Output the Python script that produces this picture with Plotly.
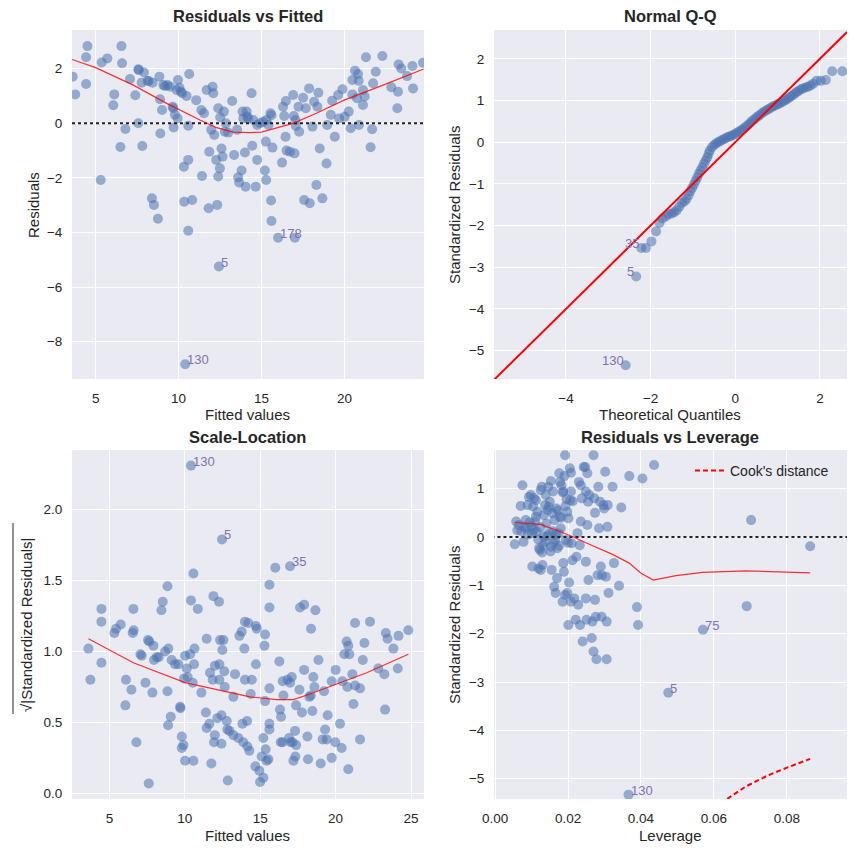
import plotly.graph_objects as go
from plotly.subplots import make_subplots

# ---------------- Panel 1: Residuals vs Fitted ----------------
rf_fitted = [3.61,3.76,4.5,4.42,4.42,5.3,5.36,5.7,6.55,6.59,6.12,6.06,6.79,6.49,7.07,7.39,7.57,7.6,7.57,7.77,7.81,7.91,8.13,8.2,8.43,8.39,8.51,8.75,8.84,8.88,8.9,9.0,9.08,9.18,9.34,9.48,9.64,9.68,9.7,9.78,9.94,9.96,9.88,10.05,10.14,10.34,10.32,10.22,10.48,10.58,10.58,10.58,10.4,10.64,10.82,11.06,11.37,11.41,11.53,11.69,11.81,11.85,11.97,12.05,12.09,12.15,12.27,12.33,12.39,12.39,12.43,12.49,12.51,12.59,12.65,12.73,12.79,12.85,12.99,13.23,13.35,13.53,13.59,13.65,13.8,13.86,13.9,14.0,14.04,14.1,14.14,14.2,14.4,14.44,14.5,14.65,14.74,14.74,14.9,15.1,15.2,15.26,15.28,15.3,15.42,15.54,15.6,15.58,15.6,15.66,16.0,16.24,16.3,16.37,16.45,16.47,16.51,16.71,16.91,16.99,17.01,16.95,17.05,17.07,17.23,17.27,17.51,17.57,17.67,17.87,17.91,18.07,18.17,18.31,18.37,18.43,18.51,18.67,18.92,18.96,19.18,19.26,19.42,19.62,19.68,19.88,20.02,20.26,20.38,20.48,20.48,20.64,20.76,20.82,20.86,20.88,21.12,21.12,21.22,21.3,21.58,21.67,21.73,21.89,22.29,22.83,23.19,23.23,23.27,23.43,23.78,24.1,24.14,24.74]
rf_resid = [1.71,1.06,2.83,2.42,1.44,-2.08,2.23,2.38,2.83,2.2,1.06,0.66,-0.21,-0.87,1.62,1.03,1.98,1.95,0.0,1.49,-0.83,1.86,1.55,1.55,1.49,-2.75,-2.99,-3.5,1.71,0.88,-0.37,0.49,1.4,1.37,1.4,1.34,0.61,0.55,-0.15,0.31,0.18,1.59,1.22,1.3,1.16,-2.87,-1.59,1.1,1.0,-1.34,-0.09,-3.94,-8.83,1.81,-2.81,0.85,0.49,-1.93,0.37,1.22,-3.11,-1.04,-0.24,1.34,1.1,-0.43,-1.34,-2.99,0.55,-1.95,-5.25,-1.65,0.22,-0.92,-1.22,0.43,-0.31,0.0,-0.34,0.82,-1.16,-0.24,-1.98,-2.17,-1.73,0.43,0.18,-1.07,-2.32,0.43,0.25,0.18,1.1,-0.82,0.12,-2.32,-1.34,-0.06,0.0,0.06,-1.73,-0.67,-2.08,0.12,-0.06,0.37,0.3,-2.83,-3.58,-0.89,-4.19,-1.44,0.61,0.27,-0.49,0.82,-1.0,-1.04,1.04,-1.1,-4.19,0.27,0.12,-0.1,0.61,-0.31,0.94,-2.81,0.55,1.28,-2.93,-0.12,0.79,-2.26,0.61,1.12,-0.92,-2.75,-1.47,-0.06,0.31,0.83,-0.49,1.04,0.18,1.25,0.24,0.43,-0.18,1.59,1.06,1.93,0.92,1.81,1.56,-0.06,1.22,0.67,0.98,2.42,-0.88,-0.22,1.47,1.89,2.47,1.32,0.55,1.16,2.16,2.01,1.73,2.1,1.28,2.22]
rf_lowess_x = [3.57,5.0,7.27,9.28,11.29,12.29,13.29,14.3,15.0,15.9,16.9,18.31,19.98,22.33,24.78]
rf_lowess_y = [2.34,2.04,1.4,0.73,0.12,-0.16,-0.32,-0.34,-0.32,-0.18,0.0,0.37,0.85,1.4,1.99]
rf_labels = ["130", "5", "178"]
rf_label_x = [10.4, 12.43, 16.0]
rf_label_y = [-8.83, -5.25, -4.19]

# ---------------- Panel 2: Normal Q-Q ----------------
qq_theor = [2.53,2.29,2.14,2.02,1.92,1.84,1.78,1.72,1.66,1.60,1.55,1.50,1.45,1.40,1.35,1.30,1.25,1.20,1.15,1.10,1.05,1.00,0.95,0.90,0.85,0.80,0.75,0.70,0.65,0.60,0.55,0.50,0.45,0.40,0.35,0.30,0.25,0.20,0.15,0.10,0.05,0.0,-0.05,-0.10,-0.15,-0.20,-0.25,-0.30,-0.35,-0.40,-0.45,-0.50,-0.55,-0.60,-0.63,-0.66,-0.70,-0.74,-0.78,-0.82,-0.86,-0.90,-0.94,-0.98,-1.02,-1.06,-1.10,-1.15,-1.20,-1.26,-1.32,-1.38,-1.44,-1.50,-1.57,-1.64,-1.72,-1.79,-1.87,-1.98,-2.11,-2.22,-2.34,-2.59]
qq_sample = [1.70,1.70,1.49,1.47,1.47,1.40,1.36,1.33,1.31,1.29,1.27,1.23,1.20,1.16,1.12,1.09,1.05,1.02,0.99,0.96,0.93,0.91,0.88,0.86,0.83,0.80,0.77,0.74,0.71,0.67,0.63,0.59,0.55,0.51,0.46,0.41,0.37,0.33,0.29,0.26,0.23,0.20,0.17,0.15,0.13,0.11,0.08,0.06,0.03,0.0,-0.03,-0.07,-0.12,-0.20,-0.28,-0.36,-0.44,-0.52,-0.60,-0.68,-0.76,-0.85,-0.93,-1.02,-1.10,-1.18,-1.27,-1.36,-1.42,-1.46,-1.55,-1.63,-1.68,-1.71,-1.73,-1.78,-1.83,-1.94,-2.14,-2.38,-2.54,-2.54,-3.22,-5.35]
qq_line = [-5.70, 2.64]
qq_labels = ["35", "5", "130"]
qq_label_x = [-2.22, -2.34, -2.59]
qq_label_y = [-2.54, -3.22, -5.35]

# ---------------- Panel 3: Scale-Location ----------------
sl_fitted = [3.61,3.74,4.47,4.47,4.47,5.33,5.44,5.75,6.06,6.1,6.46,6.55,6.59,6.61,6.79,7.06,7.14,7.39,7.56,7.65,7.61,7.85,7.92,7.96,8.14,8.27,8.45,8.54,8.69,8.85,8.91,8.85,8.89,9.07,9.13,9.35,9.57,9.69,9.71,9.8,9.8,9.91,9.95,10.02,10.02,10.13,10.19,10.35,10.41,10.41,10.52,10.57,10.57,10.61,10.64,10.86,11.1,11.4,11.45,11.45,11.63,11.67,11.76,11.85,11.9,11.94,11.99,12.0,12.16,12.27,12.29,12.29,12.34,12.43,12.43,12.47,12.49,12.56,12.62,12.65,12.78,12.82,12.85,12.96,13.22,13.33,13.22,13.55,13.62,13.77,13.82,13.88,13.95,13.99,13.99,14.13,14.15,14.21,14.28,14.37,14.44,14.68,14.72,14.72,14.77,14.94,14.99,15.1,15.21,15.21,15.28,15.32,15.32,15.36,15.43,15.54,15.61,15.61,15.61,15.61,15.61,16.0,16.27,16.31,16.38,16.36,16.49,16.49,16.54,16.8,16.91,16.98,16.98,17.03,17.09,17.15,17.2,17.31,17.33,17.38,17.38,17.6,17.64,17.77,17.91,17.91,18.13,18.17,18.26,18.35,18.37,18.46,18.52,18.59,18.66,18.86,19.01,19.14,19.23,19.3,19.41,19.47,19.74,19.74,19.98,20.0,20.29,20.4,20.45,20.58,20.73,20.78,20.84,20.84,20.91,21.11,21.18,21.29,21.29,21.62,21.62,21.8,21.91,22.28,22.83,23.23,23.28,23.33,23.44,23.83,24.12,24.17,24.82]
sl_sqrt = [1.02,0.80,1.30,1.21,0.92,1.13,1.16,1.19,0.62,0.80,0.73,1.13,1.30,1.15,0.36,0.98,0.97,0.78,1.08,1.07,0.07,0.71,1.04,0.94,0.96,0.96,1.29,1.35,1.0,1.46,1.02,0.72,0.48,0.54,0.94,0.91,0.91,0.61,0.60,0.40,0.32,0.34,0.81,0.97,0.23,0.88,0.82,0.98,2.31,1.36,0.78,1.55,0.23,0.91,1.02,1.30,0.71,0.57,0.46,1.09,0.49,0.85,0.21,0.80,1.39,0.36,0.41,0.90,0.53,1.35,0.80,0.91,1.08,0.35,0.55,1.79,1.01,1.08,0.86,0.75,0.51,0.45,0.09,0.44,0.68,0.84,0.41,0.39,1.11,1.14,0.49,0.36,1.02,1.21,0.80,0.51,0.33,1.20,0.30,0.70,0.80,0.19,0.91,1.18,1.16,0.16,0.08,0.26,0.39,0.11,1.04,1.12,0.65,0.31,0.23,0.24,1.47,1.31,0.49,0.74,0.45,1.59,0.93,0.59,0.54,0.36,0.36,0.79,0.69,0.80,0.39,1.60,0.78,0.36,0.82,0.36,0.23,0.44,0.26,0.62,0.34,0.73,1.31,0.57,1.33,0.87,0.40,0.24,0.68,0.69,1.16,0.58,0.82,0.75,1.29,0.94,0.21,0.38,0.72,0.45,0.38,0.55,0.79,0.25,0.36,0.87,0.49,0.32,0.79,0.98,1.07,0.75,0.17,1.04,0.98,0.84,0.63,1.20,0.76,0.74,0.38,0.94,1.06,1.21,0.88,0.84,0.59,1.13,1.09,1.02,0.88,1.11,1.15]
sl_lowess_x = [3.61,6.59,10.02,12.12,14.33,16.09,17.2,18.3,19.85,22.06,24.82]
sl_lowess_y = [1.09,0.92,0.78,0.73,0.68,0.66,0.66,0.70,0.76,0.85,0.98]
sl_labels = ["130", "5", "35"]
sl_label_x = [10.41, 12.47, 16.98]
sl_label_y = [2.31, 1.79, 1.60]

# ---------------- Panel 4: Residuals vs Leverage ----------------
lv_lev = [0.0054,0.0058,0.0061,0.0070,0.0075,0.0078,0.0080,0.0084,0.0089,0.0093,0.0098,0.0101,0.0102,0.0104,0.0107,0.0110,0.0112,0.0114,0.0116,0.0119,0.0121,0.0123,0.0125,0.0125,0.0128,0.0130,0.0132,0.0134,0.0137,0.0139,0.0141,0.0144,0.0146,0.0148,0.0150,0.0153,0.0153,0.0155,0.0157,0.0159,0.0162,0.0163,0.0165,0.0166,0.0168,0.0170,0.0171,0.0174,0.0176,0.0177,0.0178,0.0180,0.0182,0.0185,0.0187,0.0187,0.0189,0.0192,0.0192,0.0194,0.0196,0.0198,0.0198,0.0201,0.0201,0.0203,0.0205,0.0206,0.0208,0.0208,0.0208,0.0210,0.0212,0.0217,0.0221,0.0223,0.0226,0.0228,0.0230,0.0232,0.0233,0.0235,0.0235,0.0238,0.0240,0.0243,0.0247,0.0249,0.0249,0.0249,0.0251,0.0253,0.0253,0.0255,0.0256,0.0258,0.0265,0.0267,0.0270,0.0270,0.0272,0.0274,0.0274,0.0276,0.0278,0.0281,0.0283,0.0285,0.0288,0.0290,0.0292,0.0293,0.0297,0.0299,0.0302,0.0304,0.0306,0.0306,0.0308,0.0309,0.0311,0.0322,0.0326,0.0340,0.0346,0.0368,0.0366,0.0389,0.0392,0.0404,0.0436,0.0475,0.0570,0.0690,0.0702,0.0864,
          0.0065,0.0072,0.0085,0.0090,0.0095,0.0100,0.0106,0.0112,0.0118,0.0124,0.0129,0.0133,0.0138,0.0143,0.0147,0.0152,0.0158,0.0161,0.0167,0.0172,0.0175,0.0181,0.0186,0.0193,0.0200,0.0190,0.0213]
lv_resid = [-0.15,0.32,0.14,0.64,1.07,-0.10,0.21,0.35,0.66,0.83,0.87,0.08,-0.61,0.63,0.80,0.32,0.76,0.11,0.52,-0.65,-0.23,-0.27,-0.68,0.97,1.04,-0.58,-0.17,0.01,0.66,0.87,0.28,0.56,1.04,0.08,0.73,1.16,-0.20,-0.68,0.49,0.94,-1.03,0.35,-0.06,-1.16,0.59,-0.85,-0.23,0.08,1.32,0.42,1.14,0.18,1.07,-1.34,-0.54,0.94,-0.72,1.69,-1.20,-0.06,0.78,-1.16,0.52,0.39,-1.82,-0.94,1.42,0.76,1.33,0.94,-1.34,-0.13,-0.48,-1.27,-1.71,-0.41,0.08,-1.40,1.14,-0.17,-1.82,0.32,1.07,0.80,-2.16,1.45,1.45,0.94,-0.51,-1.27,-1.71,0.25,1.32,0.73,-0.89,0.87,-2.09,-1.75,1.69,-2.37,0.80,0.50,-1.30,-1.65,-2.53,-0.79,1.04,0.18,0.73,-0.61,-1.65,-0.79,0.66,0.59,1.35,-0.82,-2.53,-1.75,0.21,0.66,-1.16,1.04,-0.54,-1.01,0.61,1.26,-5.33,-1.45,-1.82,1.21,1.49,-3.22,-1.92,-1.43,0.35,-0.19,
            0.25,0.12,0.18,0.05,0.30,0.22,0.15,0.42,-0.05,0.20,-0.32,0.45,-0.10,0.02,0.62,-0.30,0.12,-0.12,0.05,0.55,-0.18,0.40,0.92,0.64,-0.12,1.26,0.74]
lv_lowess_x = [0.0054,0.0084,0.0125,0.0176,0.0212,0.0249,0.0285,0.0322,0.0368,0.0400,0.0434,0.0496,0.0569,0.0688,0.0864]
lv_lowess_y = [0.30,0.28,0.26,0.12,0.01,-0.12,-0.23,-0.36,-0.54,-0.75,-0.89,-0.80,-0.73,-0.70,-0.74]
cook_lev = [0.060,0.063,0.0688,0.0743,0.0797,0.0864]
cook_y = [-5.60,-5.45,-5.16,-4.95,-4.78,-4.59]
lv_labels = ["130", "5", "75"]
lv_label_x = [0.0366, 0.0475, 0.0570]
lv_label_y = [-5.33, -3.22, -1.92]

# ---------------- styling ----------------
FONT = "Liberation Sans, Arial, sans-serif"
TXT = "#262626"
PT = "#4C72B0"
LBL = "#8172B3"
BG = "#EAEAF2"
W, H = 856, 853

fig = make_subplots(rows=2, cols=2)

def scatter(x, y, r, c):
    fig.add_trace(go.Scatter(x=x, y=y, mode="markers", showlegend=False,
                             marker=dict(color=PT, size=10, opacity=0.55, line=dict(width=0))),
                  row=r, col=c)

def line(x, y, r, c, width=1.2, dash="solid", color="rgba(255,0,0,0.8)", name=None, legend=False):
    fig.add_trace(go.Scatter(x=x, y=y, mode="lines", name=name, showlegend=legend,
                             line=dict(color=color, width=width, dash=dash)), row=r, col=c)

scatter(rf_fitted, rf_resid, 1, 1)
line([3.57, 24.8], [0, 0], 1, 1, width=2, dash="dot", color="#222222")
line(rf_lowess_x, rf_lowess_y, 1, 1)
scatter(qq_theor, qq_sample, 1, 2)
line(qq_line, qq_line, 1, 2, width=2, color="#FF0000")
scatter(sl_fitted, sl_sqrt, 2, 1)
line(sl_lowess_x, sl_lowess_y, 2, 1)
scatter(lv_lev, lv_resid, 2, 2)
line([-0.001, 0.1], [0, 0], 2, 2, width=2, dash="dot", color="#222222")
line(lv_lowess_x, lv_lowess_y, 2, 2)
line(cook_lev, cook_y, 2, 2, width=2, dash="5px,3px", color="#FF0000", name="Cook's distance", legend=True)

def labels(txts, xs, ys, xref, yref, anchor):
    for t, x, y in zip(txts, xs, ys):
        fig.add_annotation(x=x, y=y, xref=xref, yref=yref, text=t, showarrow=False,
                           xanchor=anchor, yanchor="bottom", yshift=-5,
                           font=dict(family=FONT, size=13, color=LBL))

labels(rf_labels, rf_label_x, rf_label_y, "x", "y", "left")
labels(qq_labels, qq_label_x, qq_label_y, "x2", "y2", "right")
labels(sl_labels, sl_label_x, sl_label_y, "x3", "y3", "left")
labels(lv_labels, lv_label_x, lv_label_y, "x4", "y4", "left")

xd_left = [72 / W, 424 / W]
xd_right = [494 / W, 847 / W]
yd_top = [1 - 379 / H, 1 - 30 / H]
yd_bot = [1 - 799 / H, 1 - 450 / H]

def px(x):
    return x / W

def py(y):
    return 1 - y / H

titles = ["Residuals vs Fitted", "Normal Q-Q", "Scale-Location", "Residuals vs Leverage"]
title_pos = [(248, 16), (670, 16), (248, 437), (670, 437)]
for t, (cx, cy) in zip(titles, title_pos):
    fig.add_annotation(x=px(cx), y=py(cy), xref="paper", yref="paper", text="<b>%s</b>" % t,
                       showarrow=False, xanchor="center", yanchor="middle",
                       font=dict(family=FONT, size=16.5, color=TXT))

xtitles = [("Fitted values", 248, 414), ("Theoretical Quantiles", 670, 414),
           ("Fitted values", 248, 835), ("Leverage", 670, 835)]
for t, cx, cy in xtitles:
    fig.add_annotation(x=px(cx), y=py(cy), xref="paper", yref="paper", text=t, showarrow=False,
                       xanchor="center", yanchor="middle", font=dict(family=FONT, size=15, color=TXT))
ytitles = [("Residuals", 33, 205), ("Standardized Residuals", 454, 205),
           ("√|Standardized Residuals|", 26, 625), ("Standardized Residuals", 454, 625)]
for t, cx, cy in ytitles:
    fig.add_annotation(x=px(cx), y=py(cy), xref="paper", yref="paper", text=t, showarrow=False,
                       textangle=-90, xanchor="center", yanchor="middle",
                       font=dict(family=FONT, size=15, color=TXT))
fig.add_shape(type="line", xref="paper", yref="paper", x0=px(13), x1=px(13), y0=py(523), y1=py(714),
              line=dict(color=TXT, width=1))

ax_common = dict(showgrid=True, gridcolor="white", gridwidth=1, zeroline=False, automargin=False,
                 showline=False, ticks="outside", tickcolor="rgba(0,0,0,0)",
                 tickfont=dict(family=FONT, size=13.5, color=TXT))
xa = dict(ticklen=7, **ax_common)
ya = dict(ticklen=6, **ax_common)

fig.update_layout(
    width=W, height=H, margin=dict(l=0, r=0, t=0, b=0),
    paper_bgcolor="white", plot_bgcolor=BG,
    xaxis=dict(domain=xd_left, range=[3.57, 24.8], tickvals=[5, 10, 15, 20], **xa),
    yaxis=dict(domain=yd_top, range=[-9.37, 3.42], tickvals=[-8, -6, -4, -2, 0, 2], **ya),
    xaxis2=dict(domain=xd_right, range=[-5.70, 2.64], tickvals=[-4, -2, 0, 2], **xa),
    yaxis2=dict(domain=yd_top, range=[-5.68, 2.69], tickvals=[-5, -4, -3, -2, -1, 0, 1, 2], **ya),
    xaxis3=dict(domain=xd_left, range=[2.52, 25.86], tickvals=[5, 10, 15, 20, 25], **xa),
    yaxis3=dict(domain=yd_bot, range=[-0.04, 2.42], tickvals=[0, 0.5, 1.0, 1.5, 2.0], tickformat=".1f", **ya),
    xaxis4=dict(domain=xd_right, range=[-0.0003, 0.0965], tickvals=[0, 0.02, 0.04, 0.06, 0.08],
                tickformat=".2f", **xa),
    yaxis4=dict(domain=yd_bot, range=[-5.42, 1.80], tickvals=[-5, -4, -3, -2, -1, 0, 1], **ya),
    legend=dict(x=690 / W, y=1 - 455 / H, xanchor="left", yanchor="top",
                bgcolor="rgba(0,0,0,0)", font=dict(family=FONT, size=14, color=TXT)),
)

fig.write_html("out.html")
